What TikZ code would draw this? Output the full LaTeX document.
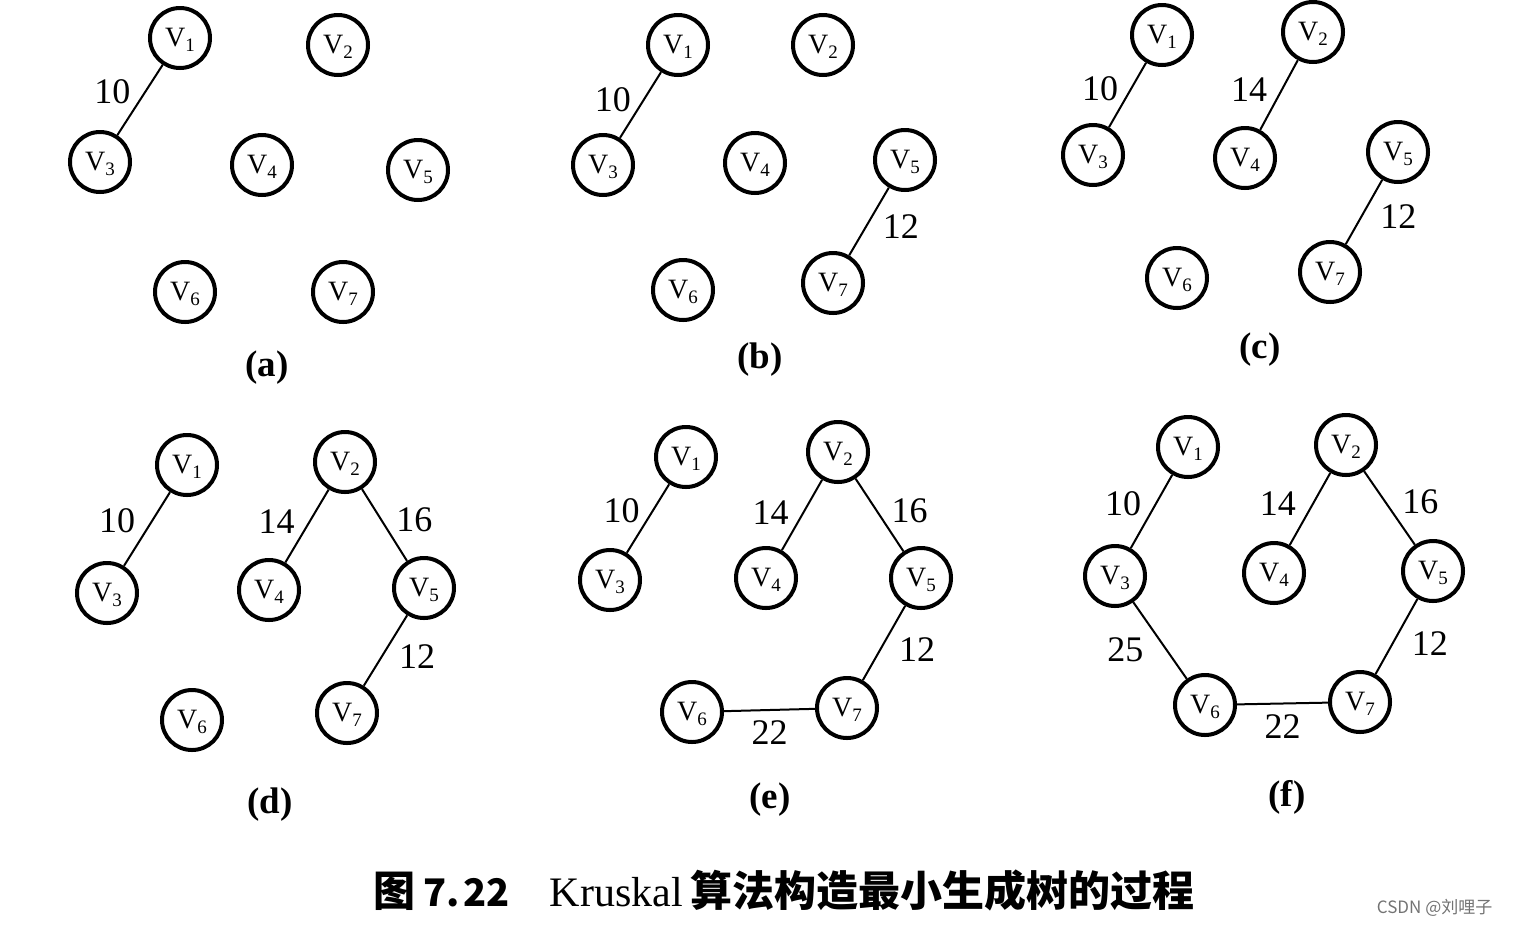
\documentclass[tikz,border=0pt]{standalone}
\usepackage{fontspec}
\setmainfont{Liberation Serif}
\newfontfamily\cjk{Noto Sans CJK SC}
\usepackage{tikz}
\newcommand{\vname}[1]{V\smash{\raisebox{-0.35ex}{\fontsize{9.5}{10}\selectfont #1}}}

\begin{document}
\begin{tikzpicture}[
    x=0.5pt, y=-0.5pt,
    vtx/.style={circle, draw, line width=2pt, minimum size=30pt, inner sep=0pt,
      font=\fontsize{14}{16}\selectfont},
    wt/.style={inner sep=0pt, font=\fontsize{18}{20}\selectfont},
    panellbl/.style={font=\bfseries\fontsize{18.5}{20}\selectfont},
    every path/.style={line width=1pt}
  ]
  \useasboundingbox (0,0) rectangle (1515,928);

  % (a)
  \foreach \n/\x/\y in {1/180/38, 2/338/45, 3/100/162, 4/262/165, 5/418/170, 6/185/292, 7/343/292}
    \node[vtx] (a\n) at (\x,\y) {\vname{\n}};
  \draw (a1) -- node[wt, pos=.38, left=7pt] {10} (a3);
  \node[panellbl] (la) at (267,368) {(a)};

  % (b)
  \foreach \n/\x/\y in {1/678/45, 2/823/45, 3/603/165, 4/755/163, 5/905/160, 6/683/290, 7/833/283}
    \node[vtx] (b\n) at (\x,\y) {\vname{\n}};
  \draw (b1) -- node[wt, pos=.42, left=6pt] {10} (b3);
  \draw (b5) -- node[wt, pos=.58, right=8pt] {12} (b7);
  \node[panellbl] (lb) at (760,360) {(b)};

  % (c)
  \foreach \n/\x/\y in {1/1162/35, 2/1313/32, 3/1093/155, 4/1245/158, 5/1398/152, 6/1177/278, 7/1330/272}
    \node[vtx] (c\n) at (\x,\y) {\vname{\n}};
  \draw (c1) -- node[wt, pos=.4, left=6pt] {10} (c3);
  \draw (c2) -- node[wt, pos=.42, left=7pt] {14} (c4);
  \draw (c5) -- node[wt, pos=.57, right=9pt] {12} (c7);
  \node[panellbl] (lc) at (1260,350) {(c)};

  % (d)
  \foreach \n/\x/\y in {1/187/465, 2/345/462, 3/107/593, 4/269/590, 5/424/588, 6/192/720, 7/347/713}
    \node[vtx] (d\n) at (\x,\y) {\vname{\n}};
  \draw (d1) -- node[wt, pos=.39, left=8pt] {10} (d3);
  \draw (d2) -- node[wt, pos=.44, left=7pt] {14} (d4);
  \draw (d2) -- node[wt, pos=.43, right=7pt] {16} (d5);
  \draw (d5) -- node[wt, pos=.58, right=8pt] {12} (d7);
  \node[panellbl] (ld) at (270,805) {(d)};

  % (e)
  \foreach \n/\x/\y in {1/686/457, 2/838/452, 3/610/580, 4/766/578, 5/921/578, 6/692/712, 7/847/708}
    \node[vtx] (e\n) at (\x,\y) {\vname{\n}};
  \draw (e1) -- node[wt, pos=.39, left=6pt] {10} (e3);
  \draw (e2) -- node[wt, pos=.46, left=7pt] {14} (e4);
  \draw (e2) -- node[wt, pos=.44, right=7pt] {16} (e5);
  \draw (e5) -- node[wt, pos=.59, right=9pt] {12} (e7);
  \draw (e6) -- node[wt, below=5pt] {22} (e7);
  \node[panellbl] (le) at (770,800) {(e)};

  % (f)
  \foreach \n/\x/\y in {1/1188/447, 2/1346/445, 3/1115/576, 4/1274/573, 5/1433/571, 6/1205/705, 7/1360/702}
    \node[vtx] (f\n) at (\x,\y) {\vname{\n}};
  \draw (f1) -- node[wt, pos=.39, left=7pt] {10} (f3);
  \draw (f2) -- node[wt, pos=.43, left=8pt] {14} (f4);
  \draw (f2) -- node[wt, pos=.42, right=8pt] {16} (f5);
  \draw (f5) -- node[wt, pos=.59, right=9pt] {12} (f7);
  \draw (f6) -- node[wt, below=5pt] {22} (f7);
  \draw (f3) -- node[wt, pos=.62, left=11pt] {25} (f6);
  \node[panellbl] (lf) at (1287,797) {(f)};

  \node[font=\fontsize{21}{24}\selectfont, inner sep=0pt, anchor=west] (title) at (372,890)
    {{\cjk\bfseries 图\hspace{4pt}{\fontsize{19}{22}\selectfont 7.\hspace{2pt}22}}\hspace{20pt}Kruskal\hspace{4pt}{\cjk\bfseries 算法构造最小生成树的过程}};
  \node[font=\cjk\fontsize{8.5}{10}\selectfont, text=black!55, anchor=east] (mark) at (1500,908)
    {CSDN @刘哩子};
\end{tikzpicture}
\end{document}
